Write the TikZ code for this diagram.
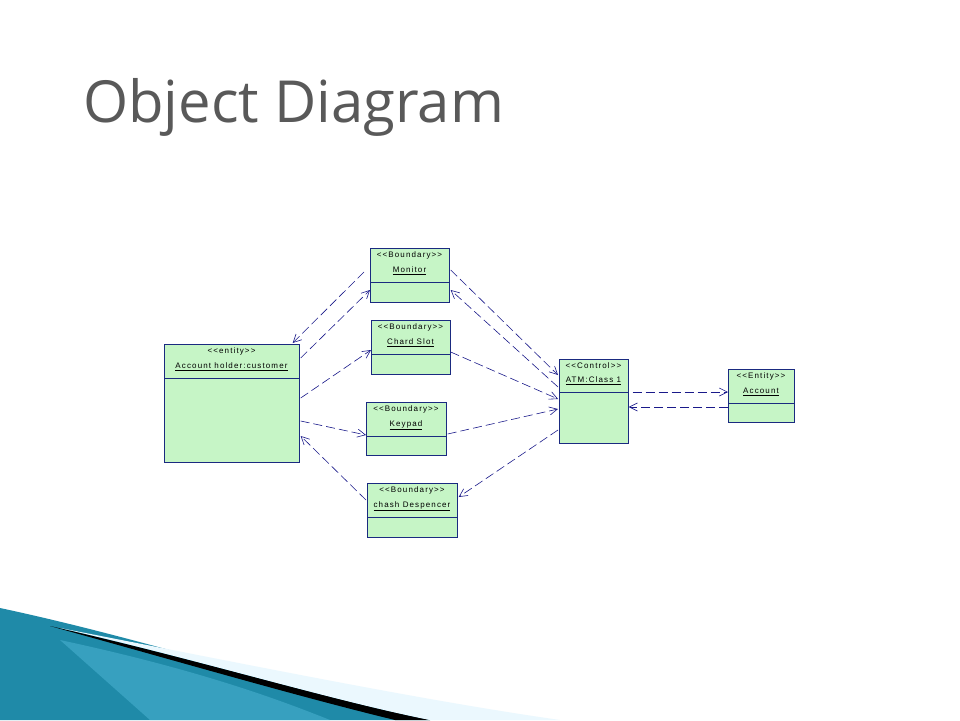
\documentclass[tikz,border=0pt]{standalone}
\usepackage{fontspec}
\setmainfont{Liberation Sans}
\newfontfamily\titlefont{Open Sans}
\usetikzlibrary{calc,arrows.meta}
\definecolor{boxfill}{HTML}{C6F5C6}
\definecolor{boxline}{HTML}{1A2A80}
\definecolor{conn}{HTML}{1A1A8A}
\definecolor{teal1}{HTML}{1F8AA8}
\definecolor{teal2}{HTML}{4FB6D6}
\tikzset{
  x=1pt,y=-1pt,
  obj/.style={draw=boxline,fill=boxfill,line width=0.7pt,inner sep=0pt},
  lbl/.style={font=\fontsize{8}{9}\selectfont\addfontfeatures{LetterSpace=14},text=black,inner sep=0pt},
  rel/.style={draw=conn,line width=0.6pt,dash pattern=on 9pt off 4pt,-{Straight Barb[open,length=8pt,width=8pt]}}
}
\newcommand{\objbox}[8]{% name, x1,y1,x2,y2, divider y, stereo, title
  \node[obj,minimum width=#4-#2,minimum height=#5-#3,anchor=north west] (#1) at (#2,#3) {};
  \draw[boxline,line width=0.7pt] (#2,#6) -- (#4,#6);
  \node[lbl] at ({(#2+#4)/2},#3+7) {#7};
  \node[lbl] at ({(#2+#4)/2},#6-11) {\underline{#8}};
}
\begin{document}
\begin{tikzpicture}
\useasboundingbox (0,0) rectangle (960,720);
\fill[white] (0,0) rectangle (960,720);
% bottom decoration
\fill[teal1] (0,608) .. controls (150,640) and (300,690) .. (430,720) -- (0,720) -- cycle;
\fill[teal2,opacity=0.5] (60,640) .. controls (200,670) and (280,700) .. (330,720) -- (150,720) -- cycle;
\fill[black] (50,626) .. controls (200,660) and (330,700) .. (430,720) -- (395,720) .. controls (300,697) and (180,662) .. (50,626) -- cycle;
\fill[cyan!8] (60,628) .. controls (250,665) and (420,700) .. (560,720) -- (430,720) .. controls (330,700) and (200,660) .. (60,628) -- cycle;
% title
\node[anchor=base west,inner sep=0pt,text=black!65,font=\titlefont\fontsize{58}{62}\selectfont] (title) at (83,122) {Object Diagram};
% objects
\objbox{mon}{370}{248}{449}{302}{282}{{<}{<}Boundary{>}{>}}{Monitor}
\objbox{card}{371}{320}{450}{374}{354}{{<}{<}Boundary{>}{>}}{Chard Slot}
\objbox{acc}{164}{344}{299}{462}{378}{{<}{<}entity{>}{>}}{Account holder:customer}
\objbox{key}{366}{402}{446}{455}{436}{{<}{<}Boundary{>}{>}}{Keypad}
\objbox{cash}{367}{483}{457}{537}{517}{{<}{<}Boundary{>}{>}}{chash Despencer}
\objbox{atm}{559}{359}{628}{443}{392}{{<}{<}Control{>}{>}}{ATM:Class 1}
\objbox{ent}{728}{369}{794}{422}{403}{{<}{<}Entity{>}{>}}{Account}
% connectors
\draw[rel] ($(mon.north west)+(-6,24)$) -- ($(acc.north east)+(-7,-1)$);
\draw[rel] ($(acc.north east)+(1,14)$) -- ($(mon.north west)+(0,42)$);
\draw[rel] ($(acc.north east)+(1,54)$) -- ($(card.north west)+(0,30)$);
\draw[rel] ($(acc.north east)+(1,77)$) -- ($(key.north west)+(0,33)$);
\draw[rel] ($(cash.north west)+(-1,17)$) -- ($(acc.north east)+(1,92)$);
\draw[rel] ($(mon.north east)+(1,22)$) -- ($(atm.north west)+(-1,16)$);
\draw[rel] ($(atm.north west)+(-1,28)$) -- ($(mon.north east)+(1,42)$);
\draw[rel] ($(card.north east)+(0,32)$) -- ($(atm.north west)+(-1,40)$);
\draw[rel] ($(key.north east)+(1,32)$) -- ($(atm.north west)+(-1,50)$);
\draw[rel] ($(atm.north west)+(-1,71)$) -- ($(cash.north east)+(1,14)$);
\draw[rel] ($(atm.north east)+(4,33)$) -- ($(ent.north west)+(0,23)$);
\draw[rel] ($(ent.north west)+(0,38)$) -- ($(atm.north east)+(0,48)$);
\end{tikzpicture}
\end{document}
